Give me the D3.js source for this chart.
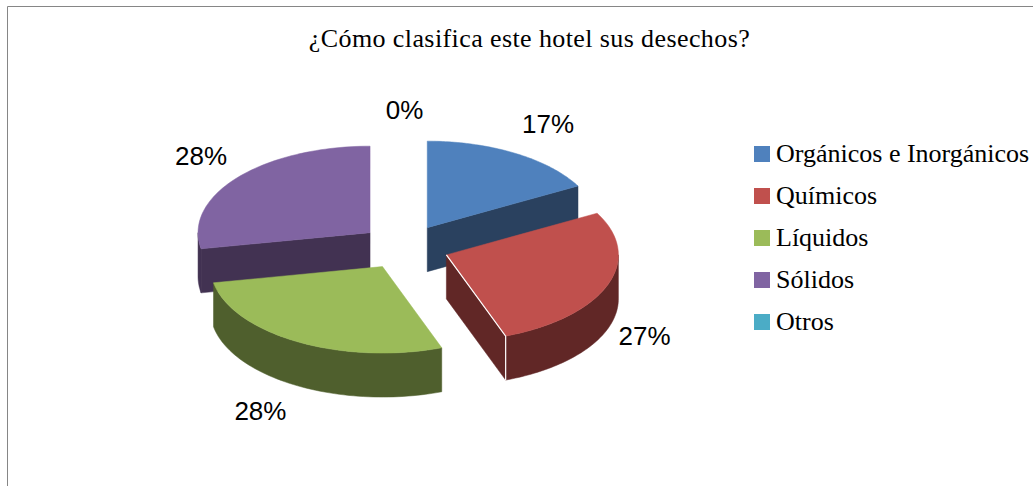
<!DOCTYPE html>
<html><head><meta charset="utf-8">
<script src="https://cdn.jsdelivr.net/npm/d3@7"></script>
<style>html,body{margin:0;padding:0;background:#fff}svg{display:block}</style>
</head><body><svg id="c" width="1033" height="486"></svg>
<script>
const chartTitle = "¿Cómo clasifica este hotel sus desechos?";
const categories = ["Orgánicos e Inorgánicos","Químicos","Líquidos","Sólidos","Otros"];
const shares = [17,27.4,27.6,28,0];
const colors = ["#4F81BD","#C0504D","#9BBB59","#8064A2","#4BACC6"];
const sideColors = ["#2A415F","#612726","#4F5F2D","#423252","#26596A"];

const W=1033,H=486, depth=44, explode=0.26;
const labelRadiusX=[1.38,1.23,1.44,1.275,1.3];
const labelRadiusY=[1.39,1.22,1.33,1.39,1.32];
const x=d3.scaleLinear().domain([-1,1]).range([404.5-172,404.5+172]);
const y=d3.scaleLinear().domain([-1,1]).range([247+86.5,247-86.5]); // unit circle, y up
const svg=d3.select("#c");
svg.append("path").attr("d",`M${W},6.5H7.5V${H}`).attr("fill","none").attr("stroke","#868686").attr("stroke-width",1);
svg.append("text").attr("x",529.5).attr("y",47).attr("text-anchor","middle").attr("letter-spacing",0.4)
  .attr("font-family","Liberation Serif").attr("font-size",26).attr("fill","#000").text(chartTitle);

const pie=d3.pie().sort(null).value(d=>d).startAngle(0).endAngle(2*Math.PI);
const arcs=pie(shares).map((a,i)=>{
  const mid=(a.startAngle+a.endAngle)/2;
  return {...a,i,mid,ox:explode*Math.sin(mid),oy:explode*Math.cos(mid)};
});
const pt=(s,ang,r=1,dz=0)=>[x(s.ox+r*Math.sin(ang)),y(s.oy+r*Math.cos(ang))+dz];
const line=d3.line();
const sweep=(s,a0,a1,dz)=>d3.range(0,61).map(k=>pt(s,a0+(a1-a0)*k/60,1,dz));

const g=svg.append("g");
[3,0,1,2].forEach(i=>{
  const s=arcs[i];
  if(s.value===0) return;
  const side=sideColors[i];
  const a0=s.startAngle,a1=s.endAngle;
  const apex=pt(s,0,0),apexB=pt(s,0,0,depth);
  const face=ang=>{const e=pt(s,ang),eB=pt(s,ang,1,depth);
    g.append("path").attr("d",line([apex,e,eB,apexB])+"Z").attr("fill",side).attr("stroke",side).attr("stroke-width",.5);};
  if(Math.sin(a1)>0.001) face(a1);
  if(Math.sin(a0)<-0.001) face(a0);
  const r0=Math.max(a0,Math.PI/2),r1=Math.min(a1,3*Math.PI/2);
  if(r1>r0){
    g.append("path").attr("d",line([...sweep(s,r0,r1,0),...sweep(s,r1,r0,depth)])+"Z")
      .attr("fill",side).attr("stroke",side).attr("stroke-width",.5);
  }
  g.append("path").attr("d",line([apex,...sweep(s,a0,a1,0)])+"Z").attr("fill",colors[i]).attr("stroke",colors[i]).attr("stroke-width",.5);
  if(i===1){
    const e=pt(s,a1),eB=pt(s,a1,1,depth);
    g.append("path").attr("d",line([apex,e,eB])).attr("fill","none").attr("stroke","#fff").attr("stroke-width",1.2);
  }
});

const fmt=d3.format(".0f");
arcs.forEach(s=>{
  const dz=Math.cos(s.mid)<0?depth:0;
  const lx=x(s.ox+labelRadiusX[s.i]*Math.sin(s.mid));
  const ly=y(s.oy+labelRadiusY[s.i]*Math.cos(s.mid))+dz;
  svg.append("text").attr("x",lx).attr("y",ly).attr("dy","0.35em").attr("text-anchor","middle")
    .attr("font-family","Liberation Sans").attr("font-size",26).attr("fill","#000").text(fmt(s.value)+"%");
});

const legY=d3.scalePoint().domain(categories).range([154,322]);
const leg=svg.append("g");
categories.forEach((c,i)=>{
  leg.append("rect").attr("x",754).attr("y",legY(c)-8).attr("width",16).attr("height",16).attr("fill",colors[i]);
  leg.append("text").attr("x",776).attr("y",legY(c)+8).attr("font-family","Liberation Serif").attr("font-size",26)
    .attr("fill","#000").text(c);
});
</script></body></html>
